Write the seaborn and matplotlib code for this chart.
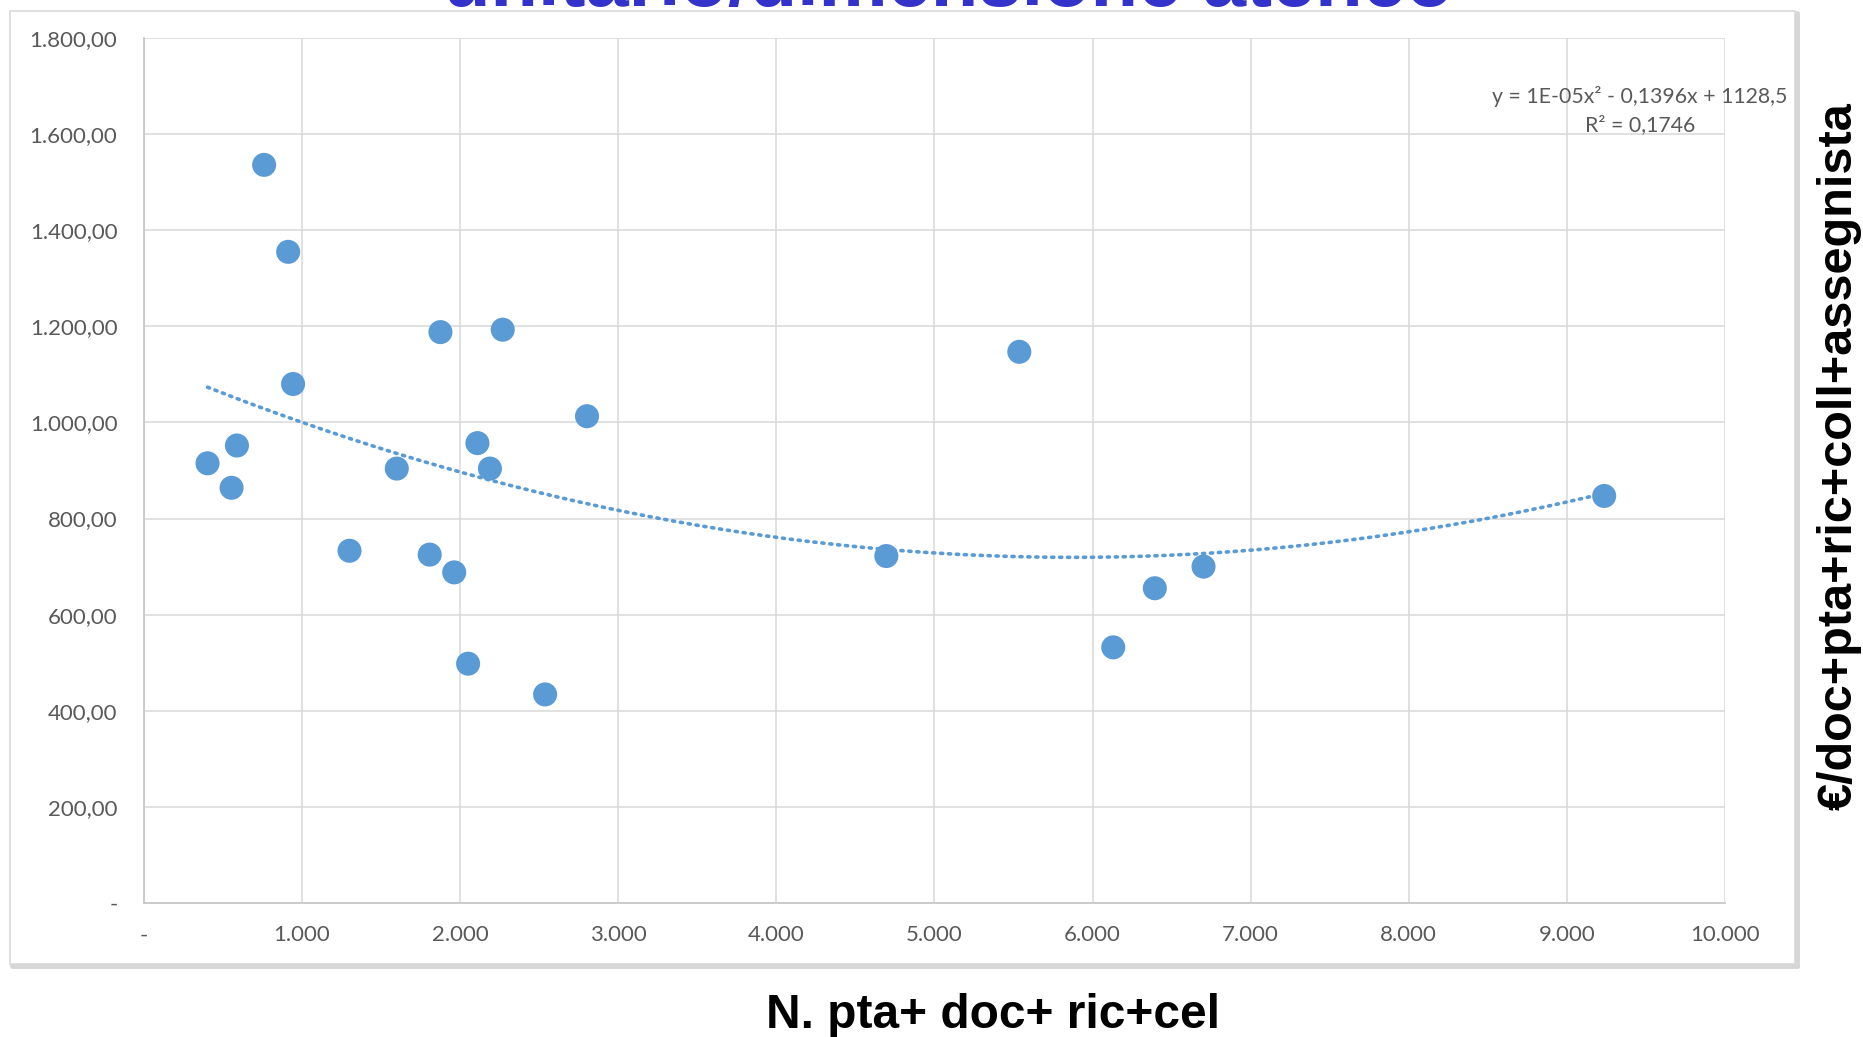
import numpy as np
import pandas as pd
import matplotlib
matplotlib.use("Agg")
import matplotlib.pyplot as plt
import seaborn as sns
from matplotlib.ticker import FuncFormatter
from matplotlib.patches import Rectangle
from matplotlib.lines import Line2D

# ---- data ----
staff = [403, 589, 555, 761, 913, 944, 1301, 1600, 1808, 1876, 1963, 2051,
         2110, 2189, 2270, 2538, 2803, 4696, 5537, 6131, 6394, 6702, 9236]
euro = [915, 952, 864, 1536, 1355, 1080, 733, 904, 725, 1188, 688, 498,
        957, 904, 1193, 434, 1013, 722, 1147, 532, 655, 700, 847]
x_ticks = [0, 1000, 2000, 3000, 4000, 5000, 6000, 7000, 8000, 9000, 10000]
y_ticks = [0, 200, 400, 600, 800, 1000, 1200, 1400, 1600, 1800]
title_text = "unitario/dimensione ateneo"
x_label = "N. pta+ doc+ ric+cel"
y_label = "€/doc+pta+ric+coll+assegnista"
eq_text = "y = 1E-05x² - 0,1396x + 1128,5\nR² = 0,1746"

df = pd.DataFrame({"staff": staff, "euro": euro})

sns.set_theme(style="white")
plt.rcParams["font.family"] = ["Liberation Sans", "DejaVu Sans"]

W, H = 1863, 1037
fig = plt.figure(figsize=(W / 100, H / 100), dpi=100)
fig.patch.set_facecolor("white")

# chart frame with shadow
fx0, fy0, fx1, fy1 = 10 / W, 1 - 964 / H, 1795 / W, 1 - 11 / H
fig.add_artist(Line2D([fx0 + 2 / W, fx1 + 2 / W], [fy0 - 2 / H, fy0 - 2 / H],
                      transform=fig.transFigure, color="#d6d6d6", lw=3.5))
fig.add_artist(Line2D([fx1 + 2 / W, fx1 + 2 / W], [fy0 - 2 / H, fy1 - 2 / H],
                      transform=fig.transFigure, color="#d6d6d6", lw=3.5))
fig.add_artist(Rectangle((fx0, fy0), fx1 - fx0, fy1 - fy0, transform=fig.transFigure,
                         fill=False, edgecolor="#d9d9d9", lw=1.2))

left, right = 143.8 / W, 1725 / W
bottom, top = 1 - 903 / H, 1 - 38 / H
ax = fig.add_axes([left, bottom, right - left, top - bottom])
ax.set_facecolor("white")

# trend line (2nd order polynomial fit of the data)
coef = np.polyfit(df["staff"], df["euro"], 2)
xs = np.linspace(min(staff), max(staff), 300)
trend = pd.DataFrame({"staff": xs, "euro": np.polyval(coef, xs)})
sns.lineplot(data=trend, x="staff", y="euro", ax=ax, color="#5b9bd5",
             lw=2.6, linestyle=(0, (0.6, 1.6)), dash_capstyle="round", zorder=2)

sns.scatterplot(data=df, x="staff", y="euro", ax=ax, s=300, color="#5b9bd5",
                edgecolor="none", linewidth=0, zorder=3)

ax.set_xlim(0, 10000)
ax.set_ylim(0, 1800)
ax.set_xticks(x_ticks)
ax.set_yticks(y_ticks)

def fmt_x(v, pos):
    if abs(v) < 1e-9:
        return "-"
    return f"{int(round(v)):,}".replace(",", ".")

def fmt_y(v, pos):
    if abs(v) < 1e-9:
        return "-"
    s = f"{v:,.2f}"
    return s.replace(",", "X").replace(".", ",").replace("X", ".")

ax.xaxis.set_major_formatter(FuncFormatter(fmt_x))
ax.yaxis.set_major_formatter(FuncFormatter(fmt_y))
ax.grid(True, color="#d9d9d9", lw=1.1)
ax.set_axisbelow(True)
for side in ["top", "right"]:
    ax.spines[side].set_visible(False)
for side in ["left", "bottom"]:
    ax.spines[side].set_color("#c8c8c8")
    ax.spines[side].set_linewidth(1.3)
ax.tick_params(axis="both", length=0, labelsize=16, labelcolor="#595959")
ax.tick_params(axis="y", pad=19)
ax.tick_params(axis="x", pad=16)
for lab in ax.get_xticklabels() + ax.get_yticklabels():
    lab.set_family(["Lato", "DejaVu Sans"])
ax.set_xlabel("")
ax.set_ylabel("")

# equation annotation
fig.text(1640 / W, 1 - 110.5 / H, eq_text, ha="center", va="center",
         fontsize=15.3, color="#595959", family=["Lato", "DejaVu Sans"],
         linespacing=1.45)

# cut-off title at the top
fig.text(948 / W, 1 - 6 / H, title_text, ha="center", va="baseline",
         fontsize=56, fontweight="bold", color="#3333cc")

# axis labels
fig.text(993 / W, 1 - 1015 / H, x_label, ha="center", va="center",
         fontsize=34.5, fontweight="bold", color="black")
fig.text(1839 / W, 1 - 456 / H, y_label, ha="center", va="center",
         rotation=90, fontsize=35, fontweight="bold", color="black")

fig.savefig("out.png", dpi=100, facecolor="white")
